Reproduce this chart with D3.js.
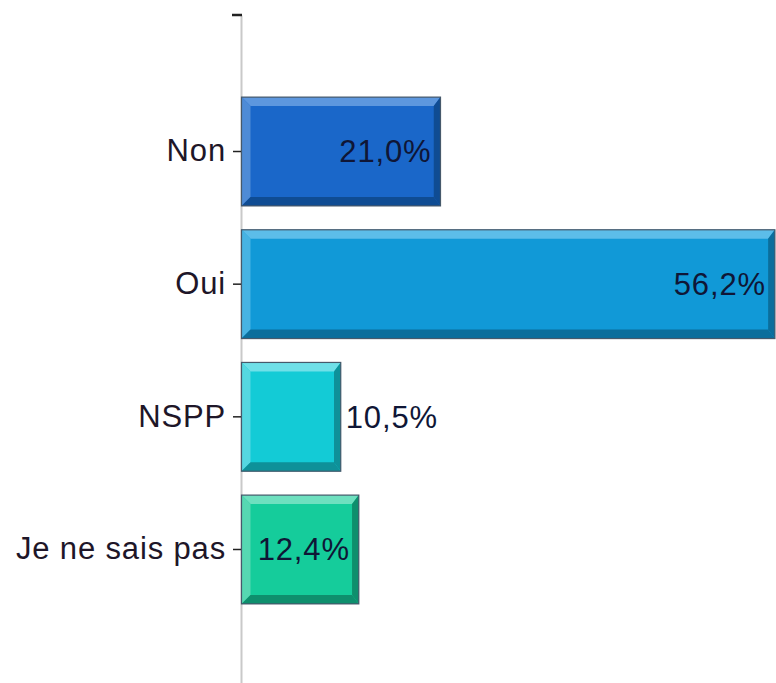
<!DOCTYPE html>
<html><head><meta charset="utf-8">
<script src="https://cdn.jsdelivr.net/npm/d3@7"></script>
<style>html,body{margin:0;padding:0;background:#fff;overflow:hidden}</style>
</head><body>
<svg id="c" width="776" height="683"></svg>
<script>
const categories = ["Non", "Oui", "NSPP", "Je ne sais pas"];
const values = [21.0, 56.2, 10.5, 12.4];
const valueLabels = ["21,0%", "56,2%", "10,5%", "12,4%"];
const mainColors = ["#1a67c9", "#1199d7", "#13cbd6", "#15cc9b"];
const lightColors = ["#5d97de", "#5cbde9", "#6fe0e8", "#6ee0bf"];
const sideColors = ["#4e8bd6", "#47b3e3", "#55d8e1", "#56d8b2"];
const darkColors = ["#0f4c93", "#0b6e9c", "#0e9199", "#0e8f6d"];

const svg = d3.select("#c");
const font = "'Liberation Sans', Arial, sans-serif";

const y = d3.scaleBand().domain(categories).range([15, 686])
  .paddingInner(0.18).paddingOuter(0.619);
const x = d3.scaleLinear().domain([0, 60]).range([241, 811]);

// axis
const axisG = svg.append("g").attr("transform", `translate(${x(0)},0)`)
  .call(d3.axisLeft(y).tickSizeInner(8).tickSizeOuter(0).tickPadding(7));
axisG.select(".domain").attr("stroke", "#c9c9c9").attr("stroke-width", 2);
axisG.selectAll(".tick line").attr("stroke", "#222").attr("stroke-width", 1.5);
axisG.selectAll(".tick text").attr("font-family", font).attr("font-size", 31)
  .attr("letter-spacing", "0.85px").attr("fill", "#1e1628");
y.range().forEach(v => {
  axisG.append("line").attr("x1", -9).attr("x2", 1).attr("y1", v).attr("y2", v)
    .attr("stroke", "#222").attr("stroke-width", 2.5);
});

const b = 9;
const bars = svg.append("g");
categories.forEach((c, i) => {
  const x0 = x(0) + 0.5, x1 = x(values[i]);
  const y0 = y(c), y1 = y(c) + y.bandwidth();
  const g = bars.append("g");
  g.append("rect").attr("x", x0).attr("y", y0).attr("width", x1 - x0).attr("height", y1 - y0)
    .attr("fill", mainColors[i]);
  const poly = (pts, col) => g.append("polygon")
    .attr("points", pts.map(p => p.join(",")).join(" ")).attr("fill", col);
  poly([[x0, y0], [x1, y0], [x1 - b * 0.75, y0 + b], [x0 + b, y0 + b]], lightColors[i]);
  poly([[x0, y0], [x0 + b, y0 + b], [x0 + b, y1 - b], [x0, y1]], sideColors[i]);
  poly([[x1, y0], [x1, y1], [x1 - b * 0.75, y1 - b], [x1 - b * 0.75, y0 + b]], darkColors[i]);
  poly([[x0, y1], [x0 + b, y1 - b], [x1 - b * 0.75, y1 - b], [x1, y1]], darkColors[i]);
  g.append("rect").attr("x", x0).attr("y", y0).attr("width", x1 - x0).attr("height", y1 - y0)
    .attr("fill", "none").attr("stroke", "#46596b").attr("stroke-width", 1.2);
  const inside = (x1 - x0) > 110;
  g.append("text")
    .attr("x", inside ? x1 - 9 : x1 + 5)
    .attr("y", (y0 + y1) / 2)
    .attr("dy", "0.35em")
    .attr("text-anchor", inside ? "end" : "start")
    .attr("font-family", font).attr("font-size", 31)
    .attr("letter-spacing", "0.85px")
    .attr("fill", "#0f1636")
    .text(valueLabels[i]);
});
</script>
</body></html>
